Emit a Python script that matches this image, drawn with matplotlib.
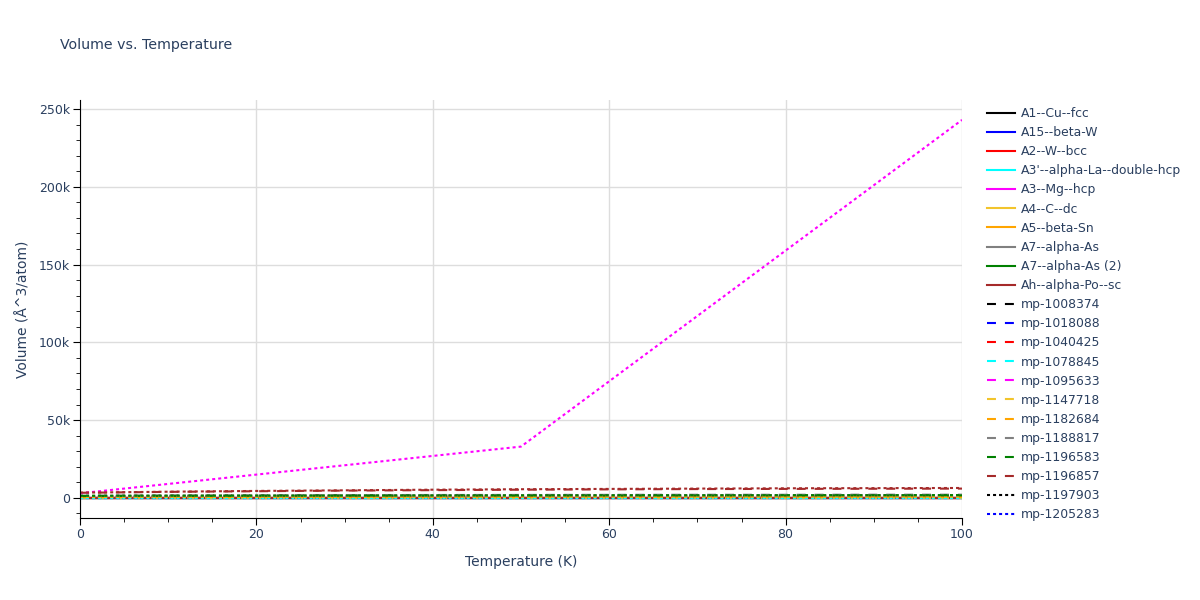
import numpy as np
import matplotlib.pyplot as plt
from matplotlib.ticker import MultipleLocator, FuncFormatter

# temperature grid (K)
temps = [0, 10, 20, 30, 40, 50, 60, 70, 80, 90, 100]

# solid traces (prototype structures)
a1_cu_fcc = [12, 12, 12, 12, 12, 12, 12, 12, 12, 12, 12]
a15_beta_w = [17, 17, 17, 17, 17, 17, 17, 17, 17, 17, 17]
a2_w_bcc = [16, 16, 16, 16, 16, 16, 16, 16, 16, 16, 16]
a3p_la = [37, 37, 37, 37, 37, 37, 37, 37, 37, 37, 37]
a3_mg_hcp = [23, 23, 23, 23, 23, 23, 23, 23, 23, 23, 23]
a4_c_dc = [20, 20, 20, 20, 20, 20, 20, 20, 20, 20, 20]
a5_beta_sn = [27, 27, 27, 27, 27, 27, 27, 27, 27, 27, 27]
a7_alpha_as = [22, 22, 22, 22, 22, 22, 22, 22, 22, 22, 22]
a7_alpha_as2 = [22, 22, 22, 22, 22, 22, 22, 22, 22, 22, 22]
ah_alpha_po = [38, 38, 38, 38, 38, 38, 38, 38, 38, 38, 38]

# dashed traces
mp_1008374 = [300, 300, 310, 310, 320, 320, 330, 330, 340, 340, 350]
mp_1018088 = [150, 150, 150, 160, 160, 160, 160, 170, 170, 170, 170]
mp_1040425 = [200, 200, 200, 210, 210, 210, 220, 220, 220, 230, 230]
mp_1078845 = [100, 100, 100, 100, 100, 100, 100, 100, 100, 100, 100]
mp_1095633 = [900, 950, 1000, 1000, 1050, 1050, 1100, 1100, 1100, 1150, 1150]
mp_1147718 = [250, 250, 250, 260, 260, 260, 270, 270, 270, 280, 280]
mp_1182684 = [400, 400, 410, 410, 420, 420, 430, 430, 440, 440, 450]
mp_1188817 = [1500, 1650, 1750, 1850, 1900, 1950, 2000, 2050, 2050, 2100, 2100]
mp_1196583 = [1200, 1300, 1350, 1400, 1450, 1500, 1500, 1550, 1550, 1600, 1600]
mp_1196857 = [3300, 3900, 4300, 4700, 5000, 5300, 5500, 5700, 5800, 5900, 6000]

# dotted traces
mp_1197903 = [1200, 1300, 1350, 1400, 1450, 1500, 1550, 1550, 1600, 1600, 1650]
mp_1205283 = [60, 60, 60, 60, 60, 60, 60, 60, 60, 60, 60]
# dotted traces that are cut off from the legend
dot_red = [500, 520, 540, 560, 580, 600, 610, 620, 630, 640, 650]
dot_cyan = [200, 200, 200, 200, 200, 200, 200, 200, 200, 200, 200]
dot_magenta = [3000, 9000, 15000, 21000, 27000, 33000, 75000, 117000, 159000, 201000, 243000]
dot_gold = [700, 720, 740, 760, 780, 800, 810, 820, 830, 840, 850]
dot_orange = [800, 820, 840, 860, 880, 900, 910, 920, 930, 940, 950]
dot_gray = [1300, 1400, 1450, 1500, 1550, 1600, 1650, 1650, 1700, 1700, 1750]
dot_green = [1400, 1450, 1500, 1550, 1600, 1650, 1700, 1700, 1750, 1750, 1800]
dot_brown = [3400, 4000, 4500, 4900, 5300, 5600, 5800, 6000, 6200, 6300, 6400]

colors = ['black', 'blue', 'red', 'cyan', 'magenta', '#f2c42c', 'orange',
          'gray', 'green', 'brown']

solid = [('A1--Cu--fcc', a1_cu_fcc), ('A15--beta-W', a15_beta_w),
         ('A2--W--bcc', a2_w_bcc), ("A3'--alpha-La--double-hcp", a3p_la),
         ('A3--Mg--hcp', a3_mg_hcp), ('A4--C--dc', a4_c_dc),
         ('A5--beta-Sn', a5_beta_sn), ('A7--alpha-As', a7_alpha_as),
         ('A7--alpha-As (2)', a7_alpha_as2), ('Ah--alpha-Po--sc', ah_alpha_po)]
dashed = [('mp-1008374', mp_1008374), ('mp-1018088', mp_1018088),
          ('mp-1040425', mp_1040425), ('mp-1078845', mp_1078845),
          ('mp-1095633', mp_1095633), ('mp-1147718', mp_1147718),
          ('mp-1182684', mp_1182684), ('mp-1188817', mp_1188817),
          ('mp-1196583', mp_1196583), ('mp-1196857', mp_1196857)]
dotted = [('mp-1197903', mp_1197903), ('mp-1205283', mp_1205283),
          ('_nolegend_', dot_red), ('_nolegend_', dot_cyan),
          ('_nolegend_', dot_magenta), ('_nolegend_', dot_gold),
          ('_nolegend_', dot_orange), ('_nolegend_', dot_gray),
          ('_nolegend_', dot_green), ('_nolegend_', dot_brown)]

txt = '#2a3f5f'
plt.rcParams['font.family'] = ['DejaVu Sans']

fig = plt.figure(figsize=(12, 6), dpi=100)
ax = fig.add_axes([80/1200, 1-518/600, 882/1200, 418/600])

lw = 1.5
for i, (name, vals) in enumerate(solid):
    ax.plot(temps, vals, color=colors[i], lw=lw, label=name)
for i, (name, vals) in enumerate(dashed):
    ax.plot(temps, vals, color=colors[i], lw=lw, ls=(0, (4.3, 4.3)), label=name)
for i, (name, vals) in enumerate(dotted):
    ax.plot(temps, vals, color=colors[i], lw=lw, ls=(0, (1.45, 1.45)), label=name)

ax.set_xlim(0, 100)
ax.set_ylim(-12900, 255800)
ax.xaxis.set_major_locator(MultipleLocator(20))
ax.xaxis.set_minor_locator(MultipleLocator(5))
ax.yaxis.set_major_locator(MultipleLocator(50000))
ax.yaxis.set_minor_locator(MultipleLocator(10000))
ax.yaxis.set_major_formatter(FuncFormatter(lambda v, p: '0' if v == 0 else '%dk' % (v/1000)))
ax.grid(True, which='major', color='#dddddd', lw=1)
ax.set_axisbelow(True)
for s in ['top', 'right']:
    ax.spines[s].set_visible(False)
for s in ['left', 'bottom']:
    ax.spines[s].set_color('black')
ax.tick_params(which='major', direction='out', length=5, color='black',
               labelsize=9, labelcolor=txt, pad=2)
ax.tick_params(which='minor', direction='out', length=3, color='black')

ax.set_xlabel('Temperature (K)', fontsize=10, color=txt, labelpad=10)
ax.set_ylabel('Volume (Å^3/atom)', fontsize=10, color=txt, labelpad=6)
fig.text(60/1200, 1-45/600, 'Volume vs. Temperature', fontsize=10.2, color=txt,
         va='center', ha='left')

leg = ax.legend(loc='upper left', bbox_to_anchor=(987/1200, 1-107/600),
                bbox_transform=fig.transFigure, frameon=False, fontsize=8.9,
                handlelength=2.3, handletextpad=0.45, labelspacing=0.495,
                borderaxespad=0, borderpad=0)
for t in leg.get_texts():
    t.set_color(txt)

fig.savefig('out.png', dpi=100)
